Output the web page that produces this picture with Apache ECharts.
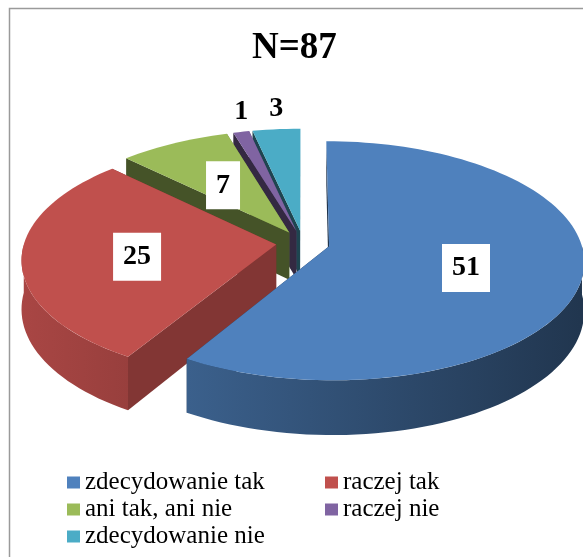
<!DOCTYPE html>
<html>
<head>
<meta charset="utf-8">
<title>N=87</title>
<script src="https://cdn.jsdelivr.net/npm/echarts@6.0.0/dist/echarts.min.js"></script>
<style>
html, body { margin: 0; padding: 0; background: #fff; }
#chart { width: 583px; height: 557px; }
</style>
</head>
<body>
<div id="chart"></div>
<script>
// dane
var categories = ['zdecydowanie tak', 'raczej tak', 'ani tak, ani nie', 'raczej nie', 'zdecydowanie nie'];
var values = [51, 25, 7, 1, 3];
var colors = ['#4f81bd', '#c0504d', '#9bbb59', '#8064a2', '#4bacc6'];

var total = values.reduce(function (a, b) { return a + b; }, 0);

// wymiary "3D" tortu (widok z gory, lekka perspektywa)
var pie = { cx: 303, cy: 243, r: 252, ry: 117, depth: 48, persp: 0.12, explode: 27 };
var RAD = Math.PI / 180;
var serif = 'Liberation Serif';

function project(u, v, h) {
  var g = 1 / (1 - pie.persp * v / pie.r);
  return [pie.cx + u * g, pie.cy + (v * pie.ry / pie.r + h) * g];
}

function shade(hex, f) {
  var n = parseInt(hex.slice(1), 16);
  var r = Math.round(((n >> 16) & 255) * f);
  var g = Math.round(((n >> 8) & 255) * f);
  var b = Math.round((n & 255) * f);
  return 'rgb(' + r + ',' + g + ',' + b + ')';
}

function sliceAngles(i) {
  var before = 0;
  for (var k = 0; k < i; k++) before += values[k];
  var a0 = before / total * 360;
  var a1 = (before + values[i]) / total * 360;
  return [a0, a1, (a0 + a1) / 2];
}

function makeRenderItem(i) {
  return function (params, api) {
    var val = api.value(0);
    var ang = sliceAngles(i);
    var a0 = ang[0], a1 = ang[1], mid = ang[2];
    var ox = pie.explode * Math.sin(mid * RAD);
    var oy = -pie.explode * Math.cos(mid * RAD);

    function pt(a, rr, h) {
      return project(ox + rr * Math.sin(a * RAD), oy - rr * Math.cos(a * RAD), h);
    }
    function arc(from, to, h) {
      var n = Math.max(2, Math.ceil((to - from) / 2));
      var pts = [];
      for (var j = 0; j <= n; j++) pts.push(pt(from + (to - from) * j / n, pie.r, h));
      return pts;
    }

    var children = [];

    // sciany boczne (promieniowe) - najpierw te odwrocone tylem
    var walls = [[a0, a0 - 90], [a1, a1 + 90]];
    walls.sort(function (p, q) { return -Math.cos(p[1] * RAD) + Math.cos(q[1] * RAD); });
    walls.forEach(function (e) {
      var nx = Math.sin(e[1] * RAD);
      children.push({
        type: 'polygon',
        shape: { points: [pt(e[0], 0, 0), pt(e[0], pie.r, 0), pt(e[0], pie.r, pie.depth), pt(e[0], 0, pie.depth)] },
        style: { fill: shade(colors[i], 0.55 + 0.15 * nx) }
      });
    });

    // sciana zewnetrzna - tylko przod
    var w0 = Math.max(a0, 90), w1 = Math.min(a1, 270);
    if (w1 > w0) {
      var topArc = arc(w0, w1, 0);
      var botArc = arc(w0, w1, pie.depth).reverse();
      children.push({
        type: 'polygon',
        shape: { points: topArc.concat(botArc) },
        style: {
          fill: new echarts.graphic.LinearGradient(20, 0, 580, 0, [
            { offset: 0, color: shade(colors[i], 0.88) },
            { offset: 1, color: shade(colors[i], 0.42) }
          ], true)
        }
      });
    }

    // wierzch
    children.push({
      type: 'polygon',
      shape: { points: [pt(mid, 0, 0)].concat(arc(a0, a1, 0)) },
      style: { fill: colors[i] }
    });

    // etykieta
    var inside = val / total >= 0.05;
    var lp = inside ? pt(mid, pie.r * 0.55, 0) : pt(mid, pie.r, 0);
    children.push({
      type: 'text',
      x: lp[0],
      y: inside ? lp[1] + 4 : lp[1] - 20,
      z2: 10,
      style: {
        text: String(val),
        font: 'bold 28px "Liberation Serif"',
        fill: '#000',
        align: 'center',
        verticalAlign: 'middle',
        lineHeight: 28,
        backgroundColor: inside ? '#fff' : 'transparent',
        padding: inside ? [10, 10] : 0
      }
    });

    return { type: 'group', children: children };
  };
}

var series = categories.map(function (name, i) {
  var mid = sliceAngles(i)[2];
  return {
    name: name,
    type: 'custom',
    coordinateSystem: 'none',
    z: 1 + Math.round((1 - Math.cos(mid * RAD)) * 50),
    itemStyle: { color: colors[i] },
    renderItem: makeRenderItem(i),
    data: [values[i]]
  };
});

var legendBase = {
  orient: 'vertical',
  top: 465,
  icon: 'rect',
  itemWidth: 13,
  itemHeight: 12,
  itemGap: 2,
  selectedMode: false,
  textStyle: { fontFamily: serif, fontSize: 25, lineHeight: 25, color: '#000' }
};

var myChart = echarts.init(document.getElementById('chart'));
myChart.setOption({
  animation: false,
  backgroundColor: '#fff',
  textStyle: { fontFamily: serif },
  title: {
    text: 'N=87',
    left: 247,
    top: 25,
    textStyle: { fontFamily: serif, fontSize: 37, fontWeight: 'bold', color: '#000' }
  },
  legend: [
    Object.assign({}, legendBase, { left: 62, data: [categories[0], categories[2], categories[4]] }),
    Object.assign({}, legendBase, { left: 320, data: [categories[1], categories[3]] })
  ],
  graphic: [{
    type: 'rect',
    shape: { x: 9.5, y: 8.5, width: 700, height: 700 },
    style: { fill: 'none', stroke: '#9a9a9a', lineWidth: 1.5 },
    silent: true
  }],
  series: series
});
</script>
</body>
</html>
